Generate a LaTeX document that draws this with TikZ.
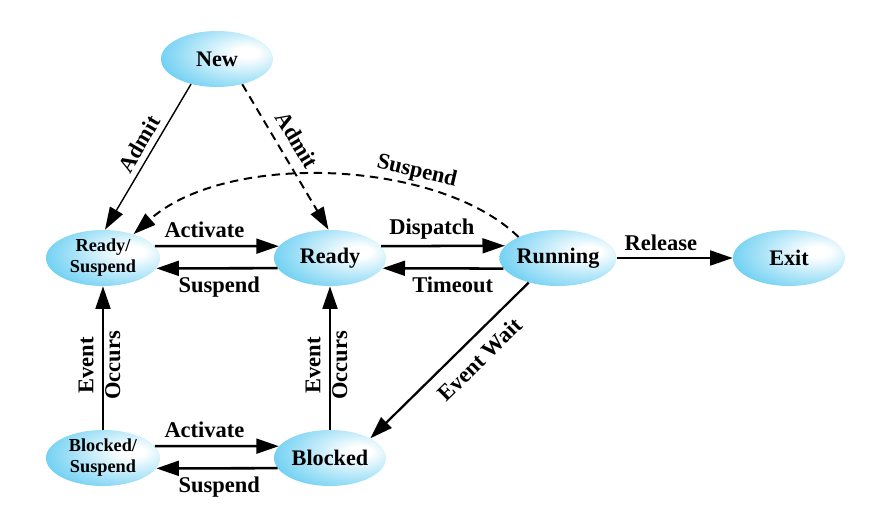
\documentclass[tikz,border=0pt]{standalone}
\usepackage{fontspec}
\setmainfont{Liberation Serif}
\usetikzlibrary{shapes.geometric,arrows.meta}
\definecolor{stb}{RGB}{80,198,240}
\pgfdeclareradialshading{stateshade}{\pgfpoint{14bp}{6bp}}{color(0bp)=(white); color(5bp)=(white); color(42bp)=(stb); color(100bp)=(stb)}

\tikzset{
    state/.style={ellipse, shading=stateshade, minimum width=2.8cm, minimum height=1.4cm,
        inner sep=0pt, font=\bfseries\fontsize{15.8}{17}\selectfont},
    twoline/.style={font=\bfseries\fontsize{13}{15}\selectfont, align=center, minimum width=2.85cm},
    lbl/.style={font=\bfseries\fontsize{16}{19}\selectfont, inner sep=2pt},
    arr/.style={-{Triangle[length=16pt,width=10.5pt]}, line width=1.8pt},
    dsh/.style={dash pattern=on 6pt off 4pt, line width=1.4pt}
}

\begin{document}
\begin{tikzpicture}[x=0.025cm, y=-0.025cm]
    \useasboundingbox (0,0) rectangle (874,517);

    % states
    \node[state] (new) at (217,59) {New};
    \node[state,twoline] (rsus) at (103,258) {Ready/\\Suspend};
    \node[state] (ready) at (330,258) {Ready};
    \node[state] (run) at (558,258) {Running};
    \node[state] (exit) at (789,258) {Exit};
    \node[state,twoline] (bsus) at (103,458) {Blocked/\\Suspend};
    \node[state] (blk) at (330,458) {Blocked};

    % transitions
    \draw[arr,line width=1pt] (new.224) -- node[lbl,sloped,above=2pt,pos=0.46]{Admit} (rsus.86);
    \draw[arr,dsh] (new.-45) -- node[lbl,sloped,above=5pt,pos=0.45]{Admit} (ready.93);
    \draw[arr,dsh] (run.152) .. controls +(-80,-78) and +(93,-83) .. (rsus.38)
        node[lbl,sloped,above,pos=0.31]{Suspend};

    \draw[arr] (rsus.13) -- node[lbl,above=3pt,pos=0.4]{Activate} (ready.167);
    \draw[arr] (ready.191) -- node[lbl,below=3pt,pos=0.48]{Suspend} (rsus.-11);
    \draw[arr] (ready.13) -- node[lbl,above=2pt,pos=0.41]{Dispatch} (run.167);
    \draw[arr] (run.191) -- node[lbl,below=3pt,pos=0.42]{Timeout} (ready.-11);
    \draw[arr] (run) -- node[lbl,above=2pt,pos=0.38]{Release} (exit);
    \draw[arr,line width=1.6pt] (run.220) -- node[lbl,sloped,below=6pt,pos=0.4]{Event Wait} (blk.26);

    \draw[arr] (bsus) -- node[lbl,xshift=-2.5pt,rotate=90,align=center,pos=0.45]{Event\\Occurs} (rsus);
    \draw[arr] (blk) -- node[lbl,xshift=-2.5pt,rotate=90,align=center,pos=0.45]{Event\\Occurs} (ready);

    \draw[arr] (bsus.13) -- node[lbl,above=3pt,pos=0.4]{Activate} (blk.167);
    \draw[arr] (blk.191) -- node[lbl,below=3pt,pos=0.48]{Suspend} (bsus.-11);
\end{tikzpicture}
\end{document}
